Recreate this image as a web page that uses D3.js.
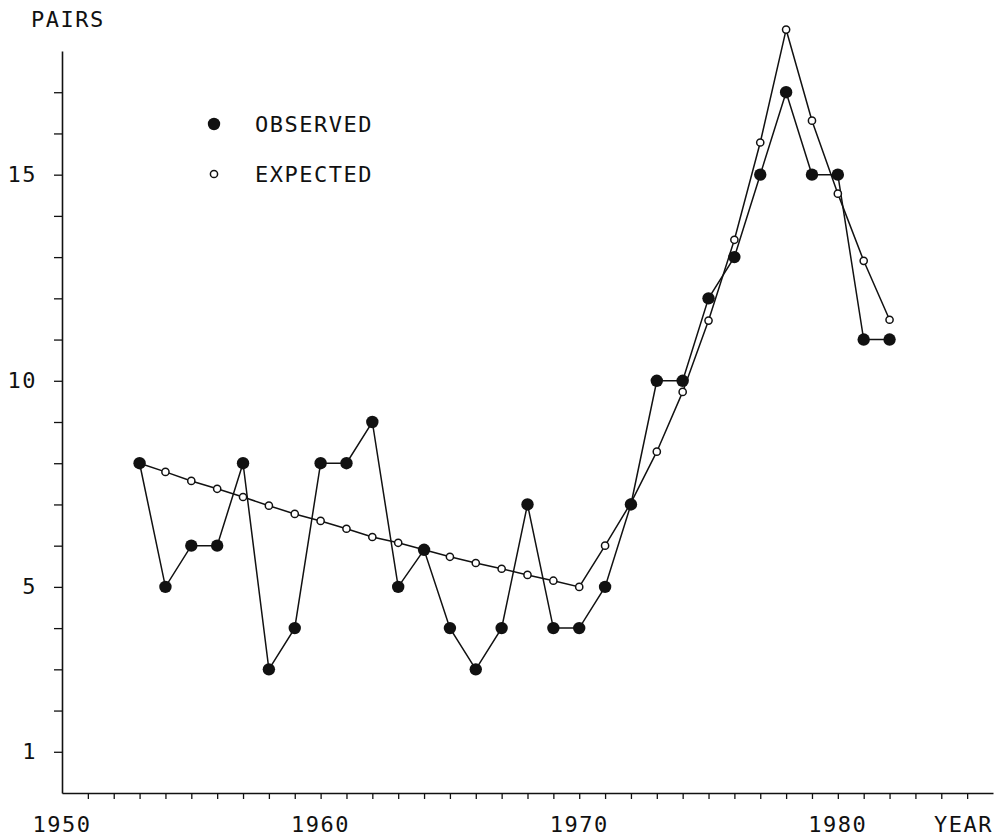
<!DOCTYPE html>
<html>
<head>
<meta charset="utf-8">
<script src="https://cdn.jsdelivr.net/npm/d3@7"></script>
<style>
  body { margin: 0; background: #fff; }
  text { font-family: "DejaVu Sans Mono", monospace; font-size: 22px; fill: #111; letter-spacing: 1.5px; }
</style>
</head>
<body>
<script>
const years = [1953, 1954, 1955, 1956, 1957, 1958, 1959, 1960, 1961, 1962,
  1963, 1964, 1965, 1966, 1967, 1968, 1969, 1970, 1971, 1972,
  1973, 1974, 1975, 1976, 1977, 1978, 1979, 1980, 1981, 1982]
const observed = [8, 5, 6, 6, 8, 3, 4, 8, 8, 9,
  5, 5.9, 4, 3, 4, 7, 4, 4, 5, 7,
  10, 10, 12, 13, 15, 17, 15, 15, 11, 11]
const expected = [8.0, 7.79, 7.57, 7.38, 7.18, 6.97, 6.77, 6.6, 6.41, 6.21,
  6.07, 5.9, 5.73, 5.58, 5.44, 5.29, 5.15, 5.0, 6.0, 7.04,
  8.28, 9.73, 11.46, 13.42, 15.78, 18.52, 16.31, 14.54, 12.91, 11.48]
const yearLabels = [1950, 1960, 1970, 1980]
const pairLabels = [1, 5, 10, 15]

const width = 1003, height = 839

const svg = d3.select("body").append("svg")
  .attr("width", width)
  .attr("height", height)

const x = d3.scaleLinear().domain([1950, 1986]).range([62, 993])
const y = d3.scaleLinear().domain([0, 18]).range([793, 51])

// axes
const yAxis = svg.append("g")
  .attr("transform", "translate(" + x(1950) + ",0)")
  .call(d3.axisLeft(y)
    .tickValues(d3.range(1, 18))
    .tickSize(8)
    .tickSizeOuter(0)
    .tickPadding(17)
    .tickFormat(d => pairLabels.includes(d) ? d : ""))

const xAxis = svg.append("g")
  .attr("transform", "translate(0," + y(0) + ")")
  .call(d3.axisBottom(x)
    .tickValues(d3.range(1951, 1986))
    .tickSize(6)
    .tickSizeOuter(0)
    .tickFormat(""))

svg.selectAll(".domain").attr("stroke", "#111").attr("stroke-width", 1.6)
svg.selectAll(".tick line").attr("stroke", "#111").attr("stroke-width", 1.3)
yAxis.selectAll("text").style("font-size", "22px").attr("fill", "#111")
  .style("font-family", "DejaVu Sans Mono, monospace")

svg.selectAll(".year-label")
  .data(yearLabels)
  .join("text")
  .attr("x", d => x(d))
  .attr("y", 832)
  .attr("text-anchor", "middle")
  .text(d => d)

svg.append("text")
  .attr("x", 993)
  .attr("y", 832)
  .attr("text-anchor", "end")
  .text("YEAR")

svg.append("text")
  .attr("x", 31)
  .attr("y", 27)
  .text("PAIRS")

// lines
const line = d3.line()
  .x(d => x(d[0]))
  .y(d => y(d[1]))

svg.append("path")
  .datum(d3.zip(years, expected))
  .attr("d", line)
  .attr("fill", "none")
  .attr("stroke", "#111")
  .attr("stroke-width", 1.5)

svg.append("path")
  .datum(d3.zip(years, observed))
  .attr("d", line)
  .attr("fill", "none")
  .attr("stroke", "#111")
  .attr("stroke-width", 1.5)

svg.append("g")
  .selectAll("circle")
  .data(d3.zip(years, expected))
  .join("circle")
  .attr("cx", d => x(d[0]))
  .attr("cy", d => y(d[1]))
  .attr("r", 3.6)
  .attr("fill", "#fff")
  .attr("stroke", "#111")
  .attr("stroke-width", 1.5)

svg.append("g")
  .selectAll("circle")
  .data(d3.zip(years, observed))
  .join("circle")
  .attr("cx", d => x(d[0]))
  .attr("cy", d => y(d[1]))
  .attr("r", 6.2)
  .attr("fill", "#111")

// legend
svg.append("circle")
  .attr("cx", 214).attr("cy", 124).attr("r", 6.2)
  .attr("fill", "#111")
svg.append("text")
  .attr("x", 255).attr("y", 132)
  .text("OBSERVED")

svg.append("circle")
  .attr("cx", 214).attr("cy", 174).attr("r", 3.6)
  .attr("fill", "#fff").attr("stroke", "#111").attr("stroke-width", 1.5)
svg.append("text")
  .attr("x", 255).attr("y", 182)
  .text("EXPECTED")
</script>
</body>
</html>
